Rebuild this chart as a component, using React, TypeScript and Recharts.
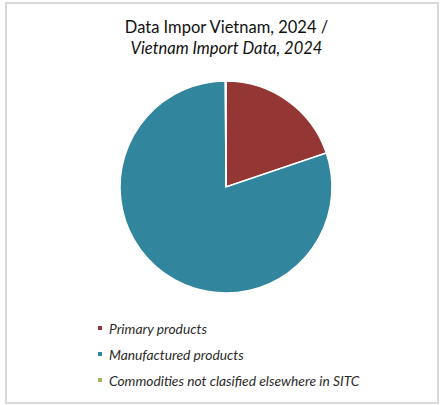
import React from "react";
import { Cell, Legend, Pie, PieChart } from "recharts";

const categories = [
  "Primary products",
  "Manufactured products",
  "Commodities not clasified elsewhere in SITC",
];
const shares = [19.8, 80.1, 0.1];
const colors = ["#943634", "#31859C", "#9BBB59"];

const data = categories.map((name, i) => ({ name, value: shares[i] }));

const font = "Lato, 'Open Sans', sans-serif";

const LegendList = () => (
  <div style={{ fontFamily: font, fontStyle: "italic", fontSize: 13.8, color: "#2b2b2b" }}>
    {categories.map((name, i) => (
      <div
        key={name}
        style={{ display: "flex", alignItems: "center", height: 26 }}
      >
        <span
          style={{
            display: "inline-block",
            width: 4,
            height: 4,
            background: colors[i],
            marginRight: 7,
          }}
        />
        <span>{name}</span>
      </div>
    ))}
  </div>
);

export default function App() {
  return (
    <div
      style={{
        position: "absolute",
        left: 0,
        top: 0,
        width: 441,
        height: 405,
        background: "#ffffff",
      }}
    >
      <div
        style={{
          position: "absolute",
          left: 5,
          top: 2,
          width: 430,
          height: 398,
          border: "2px solid #d9d9d9",
        }}
      />
      <div
        style={{
          position: "absolute",
          left: 0,
          top: 17,
          width: 453,
          textAlign: "center",
          fontFamily: font,
          fontSize: 16.5,
          lineHeight: "21px",
          color: "#111",
        }}
      >
        <div>Data Impor Vietnam, 2024 /</div>
        <div style={{ fontStyle: "italic" }}>Vietnam Import Data, 2024</div>
      </div>
      <div style={{ position: "absolute", left: 0, top: 0 }}>
        <PieChart
          width={441}
          height={405}
          margin={{ top: 0, right: 0, bottom: 0, left: 0 }}
        >
          <Pie
            data={data}
            dataKey="value"
            nameKey="name"
            cx={226}
            cy={187}
            outerRadius={106}
            startAngle={90}
            endAngle={-270}
            isAnimationActive={false}
          >
            {data.map((entry, index) => (
              <Cell
                key={`cell-${index}`}
                fill={colors[index]}
                stroke="#ffffff"
                strokeWidth={1.5}
              />
            ))}
          </Pie>
          <Legend
            content={<LegendList />}
            layout="vertical"
            wrapperStyle={{ position: "absolute", left: 98, top: 315, width: 320 }}
          />
        </PieChart>
      </div>
    </div>
  );
}
